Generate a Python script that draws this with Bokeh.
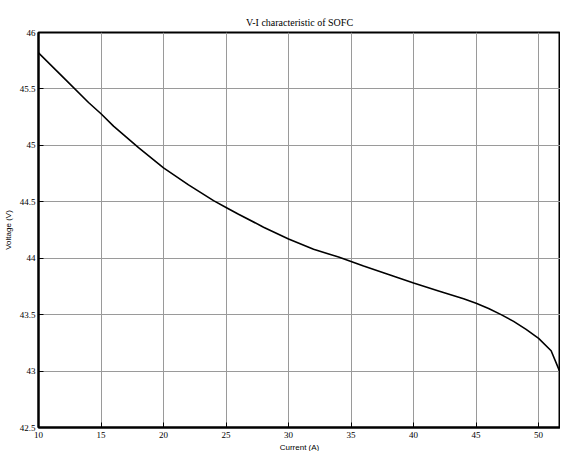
from bokeh.plotting import figure
from bokeh.models import Range1d, FixedTicker, Title
from bokeh.embed import file_html
from bokeh.resources import INLINE

# Data
current = [10, 12, 14, 15, 16, 18, 20, 22, 24, 25, 26, 28, 30, 32, 34, 35, 36,
           38, 40, 42, 44, 45, 46, 47, 48, 49, 50, 51, 51.75]
voltage = [45.82, 45.60, 45.38, 45.28, 45.17, 44.98, 44.80, 44.65, 44.51, 44.45,
           44.39, 44.275, 44.17, 44.08, 44.01, 43.97, 43.93, 43.855, 43.78, 43.71,
           43.64, 43.60, 43.555, 43.50, 43.44, 43.37, 43.29, 43.18, 42.98]

x_ticks = [10, 15, 20, 25, 30, 35, 40, 45, 50]
x_tick_labels = ["10", "15", "20", "25", "30", "35", "40", "45", "50"]
y_ticks = [42.5, 43, 43.5, 44, 44.5, 45, 45.5, 46]
y_tick_labels = ["42.5", "43", "43.5", "44", "44.5", "45", "45.5", "46"]

x_min, x_max = 10, 51.75
y_min, y_max = 42.5, 46

p = figure(width=560, height=451, output_backend="svg", toolbar_location=None,
           x_range=Range1d(x_min, x_max), y_range=Range1d(y_min, y_max),
           min_border_left=24, min_border_right=0, min_border_top=32,
           min_border_bottom=18)

p.title.text = "V-I characteristic of SOFC"
p.title.align = "center"
p.title.text_font = "Liberation Serif"
p.title.text_font_style = "normal"
p.title.text_font_size = "10px"
p.title.text_color = "black"

p.line(current, voltage, line_color="black", line_width=1.6)

p.outline_line_color = "black"
p.outline_line_width = 2

p.xaxis.ticker = FixedTicker(ticks=x_ticks)
p.yaxis.ticker = FixedTicker(ticks=y_ticks)
p.xaxis.major_label_overrides = {t: s for t, s in zip(x_ticks, x_tick_labels)}
p.yaxis.major_label_overrides = {t: s for t, s in zip(y_ticks, y_tick_labels)}

for ax in (p.xaxis, p.yaxis):
    ax.axis_line_color = "black"
    ax.axis_line_width = 2
    ax.major_tick_in = 5
    ax.major_tick_out = 0
    ax.major_tick_line_color = "black"
    ax.minor_tick_line_color = None
    ax.major_label_text_font = "Liberation Serif"
    ax.major_label_text_font_size = "9px"
    ax.major_label_text_color = "black"
    ax.axis_label_text_font = "Liberation Sans"
    ax.axis_label_text_font_size = "8px"
    ax.axis_label_text_font_style = "normal"
    ax.axis_label_text_color = "black"

p.xaxis.major_label_standoff = 4
p.yaxis.major_label_standoff = 3
p.yaxis.axis_label_standoff = 4
p.yaxis.axis_label = "Voltage (V)"

# x-axis title as a compact title below the axis
p.add_layout(Title(text="Current (A)", align="center", text_font="Liberation Sans",
                   text_font_size="8px", text_font_style="normal",
                   text_color="black", standoff=0, offset=0), "below")

p.grid.grid_line_color = "#9a9a9a"
p.grid.grid_line_width = 1

open("out.html", "w").write(file_html(p, INLINE))
